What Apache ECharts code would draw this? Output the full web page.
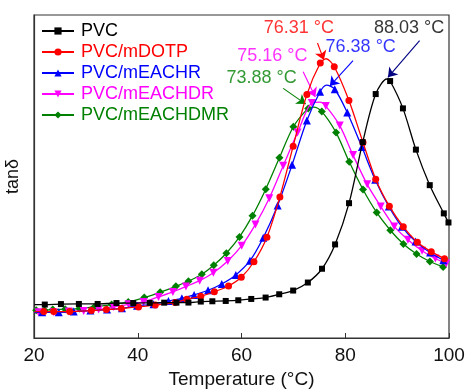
<!DOCTYPE html>
<html>
<head>
<meta charset="utf-8">
<script src="https://cdn.jsdelivr.net/npm/echarts@6/dist/echarts.min.js"></script>
<style>html,body{margin:0;padding:0;background:#fff;}#c{width:466px;height:389px;}</style>
</head>
<body>
<div id="c"></div>
<script>
const seriesNames = ['PVC','PVC/mDOTP','PVC/mEACHR','PVC/mEACHDR','PVC/mEACHDMR'];
const colors = ['#000000','#ff0000','#0000ff','#ff00ff','#008000'];

const pvcT = [22.08,25.19,28.65,32.27,35.90,39.13,42.31,45.10,47.46,49.77,52.15,54.38,56.96,59.38,61.88,64.65,67.27,69.96,72.79,75.52,78.04,80.73,83.37,85.87,88.65,91.12,93.62,96.29,99.00,99.90];
const pvcV = [0.1035,0.1050,0.1054,0.1054,0.1082,0.1082,0.1088,0.1094,0.1094,0.1097,0.1128,0.1137,0.1147,0.1168,0.1209,0.1252,0.1354,0.1469,0.1717,0.2144,0.2897,0.4174,0.6064,0.7552,0.7955,0.7109,0.5832,0.4732,0.3858,0.3576];

const dotpT = [21.88,23.81,26.88,31.06,33.94,36.83,40.15,43.37,47.21,49.46,52.15,54.77,57.50,59.96,62.40,64.90,67.40,69.96,72.60,75.19,77.88,80.71,83.42,85.87,88.50,91.19,93.90,96.58,99.13];
const dotpV = [0.0818,0.0818,0.0818,0.0849,0.0880,0.0911,0.0961,0.1023,0.1097,0.1199,0.1292,0.1432,0.1611,0.1881,0.2361,0.3121,0.4369,0.5940,0.7536,0.8513,0.8398,0.7351,0.6055,0.4918,0.4081,0.3446,0.2966,0.2674,0.2454];

const eachrT = [21.58,24.77,27.65,30.87,34.08,36.96,39.85,43.04,45.92,48.50,50.87,53.56,56.19,58.90,61.63,64.19,66.96,69.75,72.60,75.15,77.98,80.38,83.21,85.77,88.40,90.90,93.56,96.35,98.90];
const eachrV = [0.0796,0.0796,0.0818,0.0849,0.0880,0.0920,0.0998,0.1044,0.1147,0.1230,0.1333,0.1478,0.1673,0.1952,0.2392,0.3105,0.4103,0.5361,0.6731,0.7623,0.7701,0.6979,0.5910,0.4902,0.4072,0.3446,0.2984,0.2646,0.2408];

const eachdrT = [20.87,23.81,26.69,29.58,32.46,35.35,38.23,41.12,44.00,46.77,49.29,51.94,54.58,57.35,60.04,62.69,65.35,68.04,70.81,73.56,76.25,78.94,81.50,84.23,86.83,89.44,92.08,94.81,97.37,99.46];
const eachdrV = [0.0796,0.0796,0.0818,0.0837,0.0880,0.0961,0.1044,0.1116,0.1271,0.1425,0.1593,0.1776,0.2020,0.2383,0.2857,0.3517,0.4329,0.5336,0.6359,0.7273,0.7180,0.6576,0.5662,0.4757,0.4075,0.3455,0.3043,0.2702,0.2460,0.2306];

const eachdmrT = [20.42,22.02,23.62,26.00,28.75,31.63,34.96,38.17,41.25,44.33,47.35,49.77,52.35,54.65,57.08,59.62,62.12,64.67,67.31,70.00,72.85,75.48,78.23,80.77,83.42,86.06,88.69,91.21,93.75,96.31,98.87];
const eachdmrV = [0.0858,0.0858,0.0880,0.0889,0.0911,0.0961,0.1035,0.1116,0.1252,0.1416,0.1602,0.1757,0.1974,0.2253,0.2625,0.3130,0.3787,0.4608,0.5578,0.6539,0.7109,0.7010,0.6359,0.5454,0.4599,0.3886,0.3337,0.2910,0.2600,0.2368,0.2200];

// curve top (no marker drawn there)
const peakT = [88.03,76.31,76.38,75.16,73.88];
const peakV = [0.8018,0.8646,0.7831,0.7304,0.7149];
// where each line meets the left axis (no marker drawn there)
const startT = [20.1,20.1,20.1,20.1,20.1];
const startV = [0.1035,0.0818,0.0796,0.0796,0.0858];

const xTicks = [20,40,60,80,100];

// peak annotations: label text, label position [T, tanδ], arrow start, arrow end
const peakTexts = ['88.03 °C','76.31 °C','76.38 °C','75.16 °C','73.88 °C'];
const labelPos = [[92.31,0.9597],[71.06,0.9597],[82.98,0.8993],[65.96,0.8730],[63.88,0.8063]];
const arrowFrom = [[94.33,0.9204],[74.65,0.9132],[81.50,0.8584],[71.88,0.8243],[68.04,0.7729]];
const arrowTo = [[88.23,0.8070],[75.87,0.8606],[77.02,0.7800],[74.23,0.7459],[72.40,0.7242]];
const arrowColors = ['#000080','#ff0000','#0000ff','#ff00ff','#008000'];

const allT = [pvcT,dotpT,eachrT,eachdrT,eachdmrT];
const allV = [pvcV,dotpV,eachrV,eachdrV,eachdmrV];
const symbols = ['rect','circle','triangle','triangle','diamond'];
const symSizes = [6,7,8,8,8];
const symRot = [0,0,0,180,0];

const FONT = 'Liberation Sans, Arial, sans-serif';

function buildData(i){
  const pts = allT[i].map((t,j)=>({value:[t,allV[i][j]]}));
  pts.push({value:[peakT[i],peakV[i]], symbol:'none'});
  pts.push({value:[startT[i],startV[i]], symbol:'none'});
  pts.sort((a,b)=>a.value[0]-b.value[0]);
  return pts;
}

const series = seriesNames.map((n,i)=>({
  name:n, type:'line', smooth:0.3,
  data: buildData(i),
  symbol: symbols[i], symbolSize: symSizes[i], symbolRotate: symRot[i],
  showSymbol:true, showAllSymbol:true,
  lineStyle:{color:colors[i], width:1.3},
  itemStyle:{color:colors[i]},
  z: 5 - i + 2,
  emphasis:{disabled:true}
}));

peakTexts.forEach((txt,i)=>{
  series.push({
    type:'scatter', name:'ann'+i,
    data:[labelPos[i]], symbolSize:1,
    itemStyle:{color:'rgba(0,0,0,0)'},
    label:{show:true, position:'inside', formatter:txt, color:colors[i], fontSize:18, fontFamily:FONT},
    z: 20,
    silent:true,
    markLine:{
      silent:true, animation:false,
      symbol:['none','arrow'], symbolSize:9,
      label:{show:false},
      lineStyle:{color:arrowColors[i], width:1.1, type:'solid'},
      data:[[{coord:arrowFrom[i]},{coord:arrowTo[i]}]]
    }
  });
});

const chart = echarts.init(document.getElementById('c'), null, {renderer:'canvas'});
chart.setOption({
  animation:false,
  backgroundColor:'#fff',
  textStyle:{fontFamily:FONT},
  grid:{left:34, right:17, top:15, bottom:51, containLabel:false, outerBoundsMode:'none',
        show:true, borderColor:'#333', borderWidth:1.2, backgroundColor:'transparent'},
  legend:{
    orient:'vertical', left:36, top:17, itemGap:3, itemWidth:32, itemHeight:9,
    data: seriesNames.map((n,i)=>({name:n, textStyle:{color:colors[i]}})),
    textStyle:{fontSize:18, fontFamily:FONT, padding:[0,0,0,2]},
    selectedMode:false
  },
  xAxis:{
    type:'value', min:20, max:100, interval:20,
    name:'Temperature (°C)', nameLocation:'middle', nameGap:31,
    nameTextStyle:{fontSize:19, color:'#111', fontFamily:FONT},
    axisLine:{lineStyle:{color:'#333', width:1.2}},
    axisTick:{inside:true, length:5, lineStyle:{color:'#333'}},
    axisLabel:{fontSize:19, color:'#111', margin:8, fontFamily:FONT,
      formatter:(v)=> xTicks.includes(v) ? String(v) : ''},
    splitLine:{show:false}
  },
  yAxis:{
    type:'value', min:0, max:1,
    name:'tanδ', nameLocation:'middle', nameGap:12, nameRotate:90,
    nameTextStyle:{fontSize:18, color:'#111', fontFamily:FONT},
    axisLine:{show:true, lineStyle:{color:'#333', width:1.2}},
    axisTick:{show:false}, axisLabel:{show:false}, splitLine:{show:false}
  },
  series: series
});
</script>
</body>
</html>
